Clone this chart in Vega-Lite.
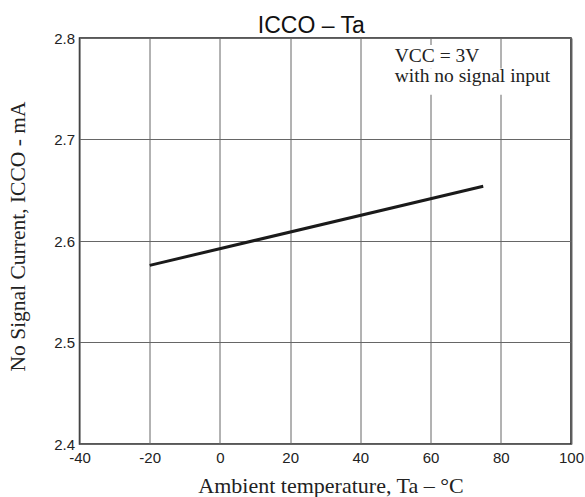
{
  "$schema": "https://vega.github.io/schema/vega-lite/v6.json",
  "autosize": {"type": "none"},
  "padding": {"left": 79.5, "top": 38, "right": 14, "bottom": 53},
  "width": 491.5,
  "height": 406,
  "background": "white",
  "title": {"text": "ICCO  – Ta", "font": "Liberation Sans", "fontSize": 23, "fontWeight": "normal", "color": "#111", "anchor": "middle", "dx": -14, "baseline": "alphabetic", "offset": -25},
  "config": {"view": {"stroke": "#222", "strokeWidth": 1.5}},
  "layer": [
    {
      "data": {"values": [{}]},
      "mark": {"type": "rect", "color": "white"},
      "encoding": {
        "x": {"datum": 46, "type": "quantitative"},
        "x2": {"datum": 98},
        "y": {"datum": 2.744, "type": "quantitative"},
        "y2": {"datum": 2.77}
      }
    },
    {
      "data": {"values": [{}]},
      "mark": {"type": "rect", "color": "white"},
      "encoding": {
        "x": {"datum": 46, "type": "quantitative"},
        "x2": {"datum": 76},
        "y": {"datum": 2.77, "type": "quantitative"},
        "y2": {"datum": 2.793}
      }
    },
    {
      "data": {"values": [{"Ta": -20, "ICCO": 2.576}, {"Ta": 75, "ICCO": 2.654}]},
      "mark": {"type": "line", "color": "#1a1a1a", "strokeWidth": 3},
      "encoding": {
        "x": {"field": "Ta", "type": "quantitative",
          "scale": {"domain": [-40, 100], "nice": false, "zero": false},
          "axis": {"values": [-40, -20, 0, 20, 40, 60, 80, 100], "labelExpr": "datum.value < 0 ? '-' + format(-datum.value, 'd') : format(datum.value, 'd')", "labelFont": "Liberation Sans", "labelFontSize": 15, "labelColor": "#222", "ticks": false, "domain": false, "grid": true, "gridColor": "#666", "gridWidth": 1, "labelPadding": 6, "labelOverlap": false, "labelFlush": false,
            "title": "Ambient temperature, Ta –  °C", "titleFont": "Liberation Serif", "titleFontSize": 22, "titleFontWeight": "normal", "titleColor": "#222", "titleX": 251, "titleY": 48, "titleBaseline": "alphabetic", "titleAlign": "center"}},
        "y": {"field": "ICCO", "type": "quantitative",
          "scale": {"domain": [2.4, 2.8], "nice": false, "zero": false},
          "axis": {"values": [2.4, 2.5, 2.6, 2.7, 2.8], "format": ".1f", "labelFont": "Liberation Sans", "labelFontSize": 15, "labelColor": "#222", "ticks": false, "domain": false, "grid": true, "gridColor": "#666", "gridWidth": 1, "labelPadding": 5,
            "title": "No Signal Current, ICCO - mA", "titleFont": "Liberation Serif", "titleFontSize": 21.5, "titleFontWeight": "normal", "titleColor": "#222", "titleX": -55, "titleY": 198, "titleAngle": -90, "titleBaseline": "alphabetic", "titleAlign": "center"}}
      }
    },
    {
      "data": {"values": [{"Ta": 49.8, "ICCO": 2.7765, "label": "VCC = 3V\nwith no signal input"}]},
      "mark": {"type": "text", "align": "left", "baseline": "alphabetic", "lineBreak": "\n", "lineHeight": 20, "font": "Liberation Serif", "fontSize": 19.5, "color": "#222"},
      "encoding": {
        "x": {"field": "Ta", "type": "quantitative"},
        "y": {"field": "ICCO", "type": "quantitative"},
        "text": {"field": "label"}
      }
    }
  ]
}
